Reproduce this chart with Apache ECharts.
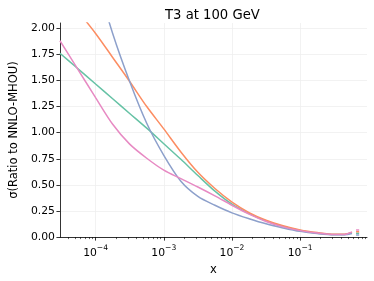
<!DOCTYPE html>
<html>
<head>
<meta charset="utf-8">
<script src="https://cdn.jsdelivr.net/npm/echarts@6/dist/echarts.min.js"></script>
<style>html,body{margin:0;padding:0;background:#fff}#c{width:374px;height:281px}</style>
</head>
<body>
<div id="c"></div>
<script>
// x sample points (momentum fraction)
var xs = [3.0e-5, 5.0e-5, 1.0e-4, 1.78e-4, 3.16e-4, 5.62e-4, 1.0e-3, 1.78e-3, 3.16e-3, 5.62e-3, 1.0e-2, 1.78e-2, 3.16e-2, 5.62e-2, 0.1, 0.178, 0.316, 0.447, 0.575];
var greenVals  = [1.76, 1.636, 1.466, 1.325, 1.184, 1.043, 0.894, 0.745, 0.59, 0.44, 0.315, 0.225, 0.155, 0.102, 0.063, 0.038, 0.024, 0.025, 0.042];
var orangeVals = [2.40, 2.20, 1.95, 1.72, 1.49, 1.25, 1.036, 0.815, 0.62, 0.465, 0.335, 0.235, 0.162, 0.108, 0.068, 0.043, 0.027, 0.028, 0.045];
var blueVals   = [null, null, 2.50, 1.95, 1.49, 1.09, 0.783, 0.535, 0.39, 0.305, 0.232, 0.176, 0.127, 0.088, 0.055, 0.034, 0.022, 0.022, 0.035];
var pinkVals   = [1.88, 1.65, 1.335, 1.08, 0.89, 0.755, 0.641, 0.56, 0.48, 0.395, 0.305, 0.22, 0.15, 0.098, 0.062, 0.039, 0.025, 0.026, 0.05];
// short isolated segment near x ~ 0.7
var tailXs = [0.66, 0.733];
var tailVals = {green: 0.036, orange: 0.052, blue: 0.02, pink: 0.068};
var xMajorTicks = [1e-4, 1e-3, 1e-2, 1e-1];
var xMinorTicks = [4e-5,5e-5,6e-5,7e-5,8e-5,9e-5,2e-4,3e-4,4e-4,5e-4,6e-4,7e-4,8e-4,9e-4,2e-3,3e-3,4e-3,5e-3,6e-3,7e-3,8e-3,9e-3,2e-2,3e-2,4e-2,5e-2,6e-2,7e-2,8e-2,9e-2,0.2,0.3,0.4,0.5,0.6,0.7,0.8,0.9];
var yTicks = [0, 0.25, 0.5, 0.75, 1.0, 1.25, 1.5, 1.75, 2.0];
var titleText = 'T3 at 100 GeV';
var yName = 'σ(Ratio to NNLO-MHOU)';
var xName = 'x';

function build(vals, tailV) {
  var d = [];
  for (var i = 0; i < xs.length; i++) {
    if (vals[i] !== null) d.push([xs[i], vals[i]]);
  }
  d.push([0.62, null]);
  d.push([tailXs[0], tailV]);
  d.push([tailXs[1], tailV]);
  return d;
}
var FONT = 'DejaVu Sans';
var chart = echarts.init(document.getElementById('c'), null, {renderer: 'canvas'});
function mkSeries(name, vals, tailV, color) {
  return {
    name: name, type: 'line', xAxisIndex: 0, yAxisIndex: 0,
    data: build(vals, tailV), showSymbol: false, symbol: 'none',
    smooth: 0.3, clip: true, connectNulls: false,
    lineStyle: {color: color, width: 1.5}, itemStyle: {color: color},
    animation: false
  };
}
chart.setOption({
  animation: false,
  title: {
    text: titleText, left: 160, top: 4,
    textStyle: {fontFamily: FONT, fontSize: 13.2, fontWeight: 'normal', color: '#000'}
  },
  grid: {left: 55.7, right: 7, top: 23, bottom: 41.7, containLabel: false},
  xAxis: [{
    type: 'log', logBase: 10, min: 3.0e-5, max: 0.955,
    name: xName, nameLocation: 'middle', nameGap: 20,
    nameTextStyle: {fontFamily: FONT, fontSize: 11.5, color: '#000'},
    axisLine: {show: true, lineStyle: {color: '#000', width: 0.8}},
    axisTick: {show: true, inside: false, length: 3.5, lineStyle: {color: '#000', width: 0.8}, customValues: xMajorTicks},
    axisLabel: {
      customValues: xMajorTicks, margin: 5,
      fontFamily: FONT, fontSize: 10.8, color: '#000',
      formatter: function (v) {
        var e = Math.round(Math.log10(v));
        return '{b|10}{s|' + (e < 0 ? '\u2212' : '') + Math.abs(e) + '}';
      },
      rich: {
        b: {fontFamily: FONT, fontSize: 10.8, color: '#000', padding: [6, 0, 0, 0]},
        s: {fontFamily: FONT, fontSize: 7.6, color: '#000', padding: [0, 0, 5, 0]}
      }
    },
    splitLine: {show: true, lineStyle: {color: '#efefef', width: 0.8}},
    minorTick: {show: false}
  }, {
    type: 'log', logBase: 10, min: 3.0e-5, max: 0.955, position: 'bottom',
    axisLine: {show: false},
    axisTick: {show: true, inside: false, length: 2, lineStyle: {color: '#000', width: 0.6}, customValues: xMinorTicks},
    axisLabel: {show: false},
    splitLine: {show: false}
  }],
  yAxis: {
    type: 'value', min: 0, max: 2.05,
    name: yName, nameLocation: 'middle', nameGap: 36, nameRotate: 90,
    nameTextStyle: {fontFamily: FONT, fontSize: 11.5, color: '#000'},
    axisLine: {show: true, lineStyle: {color: '#000', width: 0.8}},
    axisTick: {show: true, inside: false, length: 3.5, lineStyle: {color: '#000', width: 0.8}, customValues: yTicks},
    axisLabel: {
      customValues: yTicks, margin: 5,
      fontFamily: FONT, fontSize: 10.8, color: '#000',
      formatter: function (v) { return v.toFixed(2); }
    },
    splitLine: {show: true, lineStyle: {color: '#efefef', width: 0.8}}
  },
  series: [
    mkSeries('green', greenVals, tailVals.green, '#66c2a5'),
    mkSeries('orange', orangeVals, tailVals.orange, '#fc8d62'),
    mkSeries('blue', blueVals, tailVals.blue, '#8da0cb'),
    mkSeries('pink', pinkVals, tailVals.pink, '#e78ac3')
  ]
});
</script>
</body>
</html>
